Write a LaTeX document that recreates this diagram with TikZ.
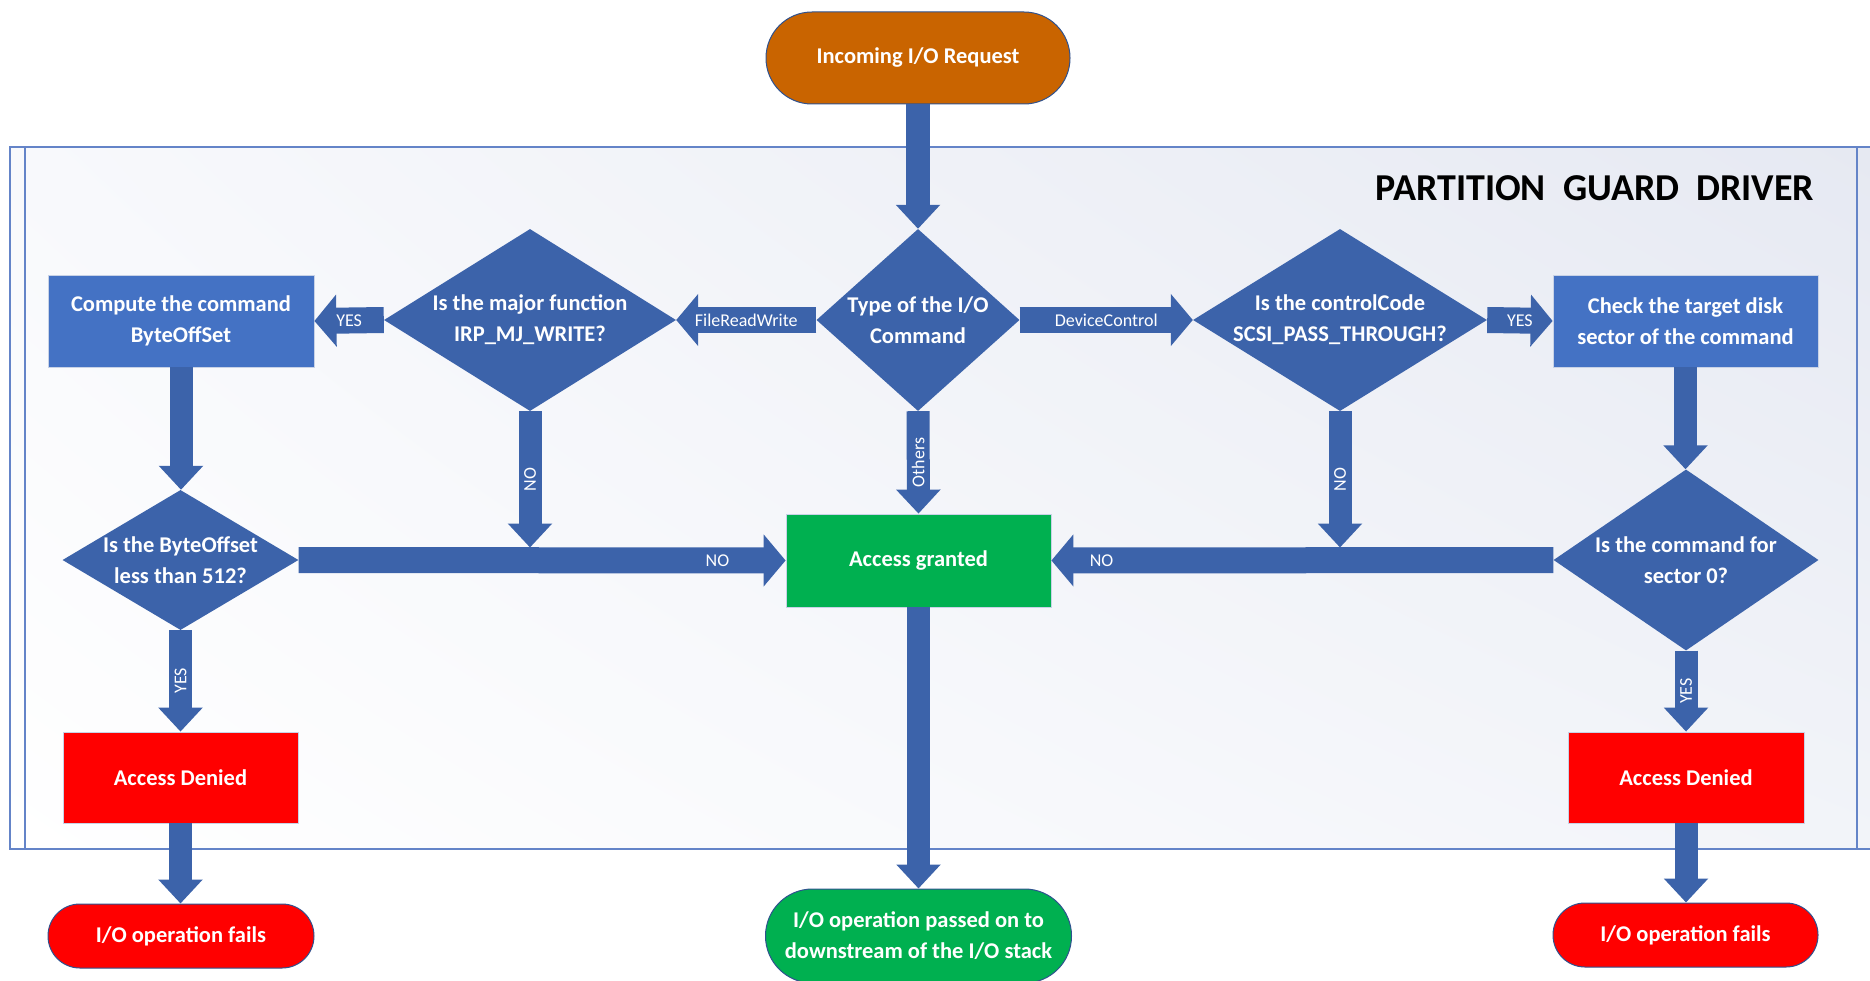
\documentclass[tikz,border=0pt]{standalone}
\usepackage{fontspec}
\setmainfont{Carlito}
\usetikzlibrary{arrows.meta,shapes.geometric,calc,shadings}

\definecolor{flowblue}{RGB}{60,99,170}
\definecolor{boxblue}{RGB}{68,114,196}
\definecolor{okgreen}{RGB}{0,176,80}
\definecolor{denyred}{RGB}{255,0,0}
\definecolor{startorange}{RGB}{201,100,0}
\definecolor{framecol}{RGB}{100,132,200}
\definecolor{edgeblue}{RGB}{47,82,143}
\definecolor{boxedge}{RGB}{200,210,230}
\definecolor{bgul}{RGB}{248,249,252}
\definecolor{bgur}{RGB}{230,233,242}
\definecolor{bglr}{RGB}{242,244,249}

\begin{document}
\begin{tikzpicture}[x=1pt,y=-1pt,
  txt/.style={text=white,font=\fontsize{22.5}{31}\selectfont\bfseries,align=center},
  lbl/.style={text=white,font=\fontsize{18}{18}\selectfont,inner sep=0pt},
  proc/.style={rectangle,draw=boxedge,line width=0.8pt,inner sep=0pt,txt},
  terminal/.style={rectangle,rounded corners=#1,draw=edgeblue,line width=1pt,inner sep=0pt,txt},
  decision/.style={diamond,fill=flowblue,draw=none,inner sep=0pt},
  harrow/.style={draw=flowblue,line width=26pt,-{Triangle[length=22pt,width=51pt]}},
  varrow/.style={draw=flowblue,line width=23pt,-{Triangle[length=24pt,width=43pt]}}
]
\useasboundingbox (0,0) rectangle (1870,981);

% driver frame with its soft background
\shade[upper left=bgul,upper right=bgur,lower left=white,lower right=bglr]
  (10,147) rectangle (1870,849);
\draw[framecol,line width=1.3pt] (10,147) rectangle (1885,849);
\draw[framecol,line width=1.3pt] (25,147) -- (25,849);
\draw[framecol,line width=1.3pt] (1857,147) -- (1857,849);

\node[font=\fontsize{38}{40}\selectfont\bfseries,inner sep=0pt] (title) at (1595,188)
  {PARTITION\hspace{0.45em}GUARD\hspace{0.45em}DRIVER};

% terminals
\node[terminal=45.9pt,fill=startorange,minimum width=304pt,minimum height=92pt] (inc) at (918,58) {Incoming I/O Request};
\node[terminal=46.9pt,fill=okgreen,minimum width=306pt,minimum height=94pt] (pass) at (918.5,936) {I/O operation passed on to\\downstream of the I/O stack};
\node[terminal=31.9pt,fill=denyred,minimum width=266pt,minimum height=64pt] (faill) at (181,936) {I/O operation fails};
\node[terminal=31.9pt,fill=denyred,minimum width=265pt,minimum height=64pt] (failr) at (1685.5,935) {I/O operation fails};

% decisions
\node[decision,minimum width=203pt,minimum height=182pt,
  label={[txt]center:Type of the I/O\\Command}] (typ) at (918,320) {};
\node[decision,minimum width=292pt,minimum height=182pt,
  label={[txt]center:Is the major function\\IRP\_MJ\_WRITE?}] (irp) at (530,320) {};
\node[decision,minimum width=294pt,minimum height=182pt,
  label={[txt]center:Is the controlCode\\SCSI\_PASS\_THROUGH?}] (scsi) at (1340,320) {};
\node[decision,minimum width=236pt,minimum height=140pt,
  label={[txt]center:Is the ByteOffset\\less than 512?}] (bof) at (180.5,560) {};
\node[decision,minimum width=265pt,minimum height=181pt,
  label={[txt]center:Is the command for\\sector 0?}] (sec) at (1686,560) {};

% process boxes
\node[proc,fill=boxblue,minimum width=266pt,minimum height=92pt] (cmp) at (181,321) {Compute the command\\ByteOffSet};
\node[proc,fill=boxblue,minimum width=265pt,minimum height=92pt] (chk) at (1685.5,321) {Check the target disk\\sector of the command};
\node[proc,fill=okgreen,minimum width=265pt,minimum height=93pt] (agr) at (918.5,560.5) {Access granted};
\node[proc,fill=denyred,minimum width=235pt,minimum height=91pt] (denl) at (180.5,777.5) {Access Denied};
\node[proc,fill=denyred,minimum width=236pt,minimum height=91pt] (denr) at (1686,777.5) {Access Denied};

% connectors
\draw[varrow,line width=24pt] (inc.south) -- (typ.north);
\draw[harrow] (typ.west) -- node[lbl] (lfrw) {FileReadWrite} (irp.east);
\draw[harrow] (typ.east) -- node[lbl] (ldev) {DeviceControl} (scsi.west);
\draw[harrow] (irp.west) -- node[lbl] (lyes1) {YES} (cmp.east);
\draw[harrow] (scsi.east) -- node[lbl] (lyes2) {YES} (chk.west);
\draw[varrow] (typ.south) -- node[lbl,rotate=90] (loth) {Others} (agr.north);
\draw[varrow] (cmp.south) -- (cmp.south |- bof.north);
\draw[varrow] (chk.south) -- (chk.south |- sec.north);
\draw[harrow] (bof.east) -- node[lbl,pos=0.86] (lno1) {NO} (agr.west);
\draw[harrow] (sec.west) -- node[lbl,pos=0.9] (lno2) {NO} (agr.east);
\draw[varrow] (irp.south) -- node[lbl,rotate=90] (lno3) {NO} ($(irp.south |- agr.west)+(0,-13)$);
\draw[varrow] (scsi.south) -- node[lbl,rotate=90] (lno4) {NO} ($(scsi.south |- agr.east)+(0,-13)$);
\draw[varrow] (bof.south) -- node[lbl,rotate=90] (lyes3) {YES} (bof.south |- denl.north);
\draw[varrow] (sec.south) -- node[lbl,rotate=90] (lyes4) {YES} (sec.south |- denr.north);
\draw[varrow] (agr.south) -- (pass.north);
\draw[varrow] (denl.south) -- (denl.south |- faill.north);
\draw[varrow] (denr.south) -- (denr.south |- failr.north);
\end{tikzpicture}
\end{document}
